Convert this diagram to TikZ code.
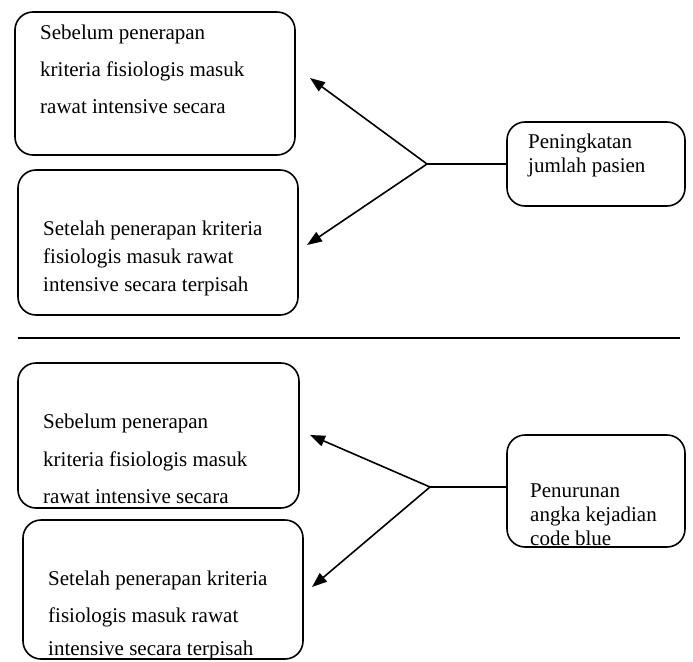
\documentclass[tikz,border=0pt]{standalone}
\usepackage{fontspec}
\setmainfont{Liberation Serif}
\usetikzlibrary{arrows.meta}
\begin{document}
\begin{tikzpicture}[x=1pt,y=-1pt,
  box/.style={draw, line width=1.6pt, rounded corners=18pt, inner sep=0pt},
  txt/.style={anchor=base west, inner sep=0pt, font=\fontsize{21}{24}\selectfont},
  conn/.style={line width=1.6pt},
  arr/.style={line width=1.6pt, -{Triangle[length=15pt,width=11pt]}}]
\useasboundingbox (0,0) rectangle (693,661);
% top section
\node[box, minimum width=280pt, minimum height=143pt] (b1) at (155,83.5) {};
\node[box, minimum width=280pt, minimum height=145pt] (b2) at (158,242.5) {};
\node[box, minimum width=178pt, minimum height=84pt] (pk) at (596,164) {};
\node[txt] (t1a) at (40,40) {Sebelum penerapan};
\node[txt] (t1b) at (40,77) {kriteria fisiologis masuk};
\node[txt] (t1c) at (40,113) {rawat intensive secara};
\node[txt] (t2a) at (43,235) {Setelah penerapan kriteria};
\node[txt] (t2b) at (43,263) {fisiologis masuk rawat};
\node[txt] (t2c) at (43,291) {intensive secara terpisah};
\node[txt] (tpa) at (528,148) {Peningkatan};
\node[txt] (tpb) at (528,172) {jumlah pasien};
\coordinate (j1) at (427,164);
\coordinate (a1) at (310,78);
\coordinate (a2) at (307,245);
\draw[conn] (pk.west) -- (j1);
\draw[arr] (j1) -- (a1);
\draw[arr] (j1) -- (a2);
% separator
\coordinate (s1) at (18,338);
\coordinate (s2) at (680,338);
\draw[line width=1.8pt] (s1) -- (s2);
% bottom section
\node[box, minimum width=281pt, minimum height=145pt] (b3) at (158.5,435.5) {};
\node[box, minimum width=280pt, minimum height=139pt] (b4) at (163,589.5) {};
\node[box, minimum width=178pt, minimum height=112pt] (pn) at (596,491) {};
\node[txt] (t3a) at (43,428) {Sebelum penerapan};
\node[txt] (t3b) at (43,466) {kriteria fisiologis masuk};
\node[txt] (t3c) at (43,503) {rawat intensive secara};
\node[txt] (t4a) at (48,585) {Setelah penerapan kriteria};
\node[txt] (t4b) at (48,622) {fisiologis masuk rawat};
\node[txt] (t4c) at (48,655) {intensive secara terpisah};
\node[txt] (tna) at (530,497) {Penurunan};
\node[txt] (tnb) at (530,521) {angka kejadian};
\node[txt] (tnc) at (530,545) {code blue};
\coordinate (j2) at (430,487);
\coordinate (a3) at (310,435);
\coordinate (a4) at (312,587);
\draw[conn] (j2 -| pn.west) -- (j2);
\draw[arr] (j2) -- (a3);
\draw[arr] (j2) -- (a4);
\end{tikzpicture}
\end{document}
